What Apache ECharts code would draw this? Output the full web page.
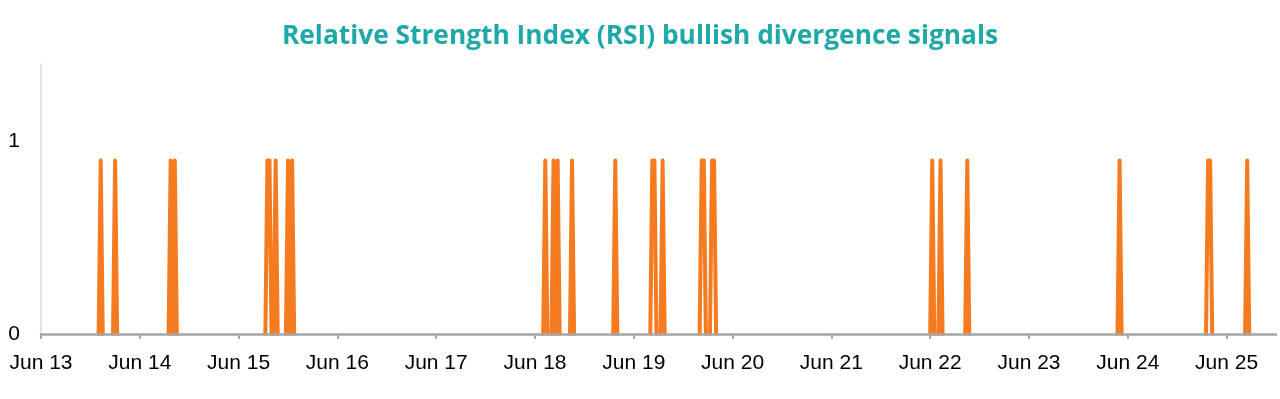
<!DOCTYPE html>
<html>
<head>
<meta charset="utf-8">
<script src="https://cdn.jsdelivr.net/npm/echarts@6/dist/echarts.min.js"></script>
<style>
html,body{margin:0;padding:0;background:#fff;}
#chart{width:1280px;height:399px;}
</style>
</head>
<body>
<div id="chart"></div>
<script>
// ---- data (UTC times of RSI bullish divergence signals) ----
const titleText = 'Relative Strength Index (RSI) bullish divergence signals';
const rangeStart = '2025-06-13T00:00Z';
const rangeEnd = '2025-06-25T12:00Z';
const signalTimes = [
  '2025-06-13T14:30Z','2025-06-13T18:00Z',
  '2025-06-14T07:30Z','2025-06-14T08:30Z',
  '2025-06-15T07:00Z','2025-06-15T07:30Z','2025-06-15T09:00Z','2025-06-15T12:00Z','2025-06-15T13:00Z',
  '2025-06-18T02:30Z','2025-06-18T04:30Z','2025-06-18T05:30Z','2025-06-18T09:00Z','2025-06-18T19:30Z',
  '2025-06-19T04:30Z','2025-06-19T05:00Z','2025-06-19T07:00Z','2025-06-19T16:30Z','2025-06-19T17:00Z','2025-06-19T19:00Z','2025-06-19T19:30Z',
  '2025-06-22T00:30Z','2025-06-22T02:30Z','2025-06-22T09:00Z',
  '2025-06-23T22:00Z',
  '2025-06-24T19:30Z','2025-06-24T20:00Z',
  '2025-06-25T05:00Z'
];
const signalValues = [
  0.9,0.9,
  0.9,0.9,
  0.9,0.9,0.9,0.9,0.9,
  0.9,0.9,0.9,0.9,0.9,
  0.9,0.9,0.9,0.9,0.9,0.9,0.9,
  0.9,0.9,0.9,
  0.9,
  0.9,0.9,
  0.9
];
const tickLabels = ['Jun 13','Jun 14','Jun 15','Jun 16','Jun 17','Jun 18','Jun 19','Jun 20','Jun 21','Jun 22','Jun 23','Jun 24','Jun 25'];
const yTickLabels = ['0','1'];

// ---- build series (30-minute sampling; value 0 when no signal) ----
const STEP = 30 * 60 * 1000;
const DAY = 24 * 3600 * 1000;
const t0 = Date.parse(rangeStart);
const t1 = Date.parse(rangeEnd);
const pts = new Map();
signalTimes.forEach((s, i) => { pts.set(Date.parse(s), signalValues[i]); });
signalTimes.forEach((s) => {
  const t = Date.parse(s);
  if (!pts.has(t - STEP)) pts.set(t - STEP, 0);
  if (!pts.has(t + STEP)) pts.set(t + STEP, 0);
});
const sorted = Array.from(pts.entries()).sort((a, b) => a[0] - b[0]);
// the flat zero baseline between signal groups lies under the axis line; leave it undrawn
const seriesData = [];
sorted.forEach((p, i) => {
  if (i > 0 && p[0] - sorted[i - 1][0] > STEP) seriesData.push([p[0] - STEP / 2, null]);
  seriesData.push(p);
});
const dayTicks = tickLabels.map((_, i) => t0 + i * DAY);

const chart = echarts.init(document.getElementById('chart'), null, {renderer: 'canvas'});
chart.setOption({
  animation: false,
  backgroundColor: '#ffffff',
  title: {
    text: titleText,
    left: 'center',
    top: 19,
    textStyle: {
      fontFamily: 'Open Sans',
      fontWeight: 'bold',
      fontSize: 26.3,
      color: '#1fa8a8'
    }
  },
  grid: {left: 41, right: 4, top: 64, bottom: 65, containLabel: false},
  xAxis: {
    type: 'value',
    min: t0,
    max: t1,
    interval: DAY,
    z: 10,
    splitLine: {show: false},
    axisLine: {show: true, lineStyle: {color: '#a6a6a6', width: 2.5}},
    axisTick: {show: true, length: 5, customValues: dayTicks, lineStyle: {color: '#a6a6a6', width: 2}},
    axisLabel: {
      customValues: dayTicks,
      margin: 19,
      fontFamily: 'Liberation Sans',
      fontSize: 21,
      color: '#000000',
      formatter: (v) => tickLabels[Math.round((v - t0) / DAY)] || ''
    }
  },
  yAxis: {
    type: 'value',
    min: 0,
    max: 1.4,
    interval: 1,
    splitLine: {show: false},
    axisLine: {show: true, lineStyle: {color: '#d9d9d9', width: 1.5}},
    axisTick: {show: false},
    axisLabel: {
      showMaxLabel: false,
      margin: 21,
      padding: [5, 0, 0, 0],
      fontFamily: 'Liberation Sans',
      fontSize: 21,
      color: '#000000',
      formatter: (v) => (Math.abs(v - Math.round(v)) < 1e-9 && yTickLabels[Math.round(v)] !== undefined) ? yTickLabels[Math.round(v)] : ''
    }
  },
  series: [{
    type: 'line',
    data: seriesData,
    connectNulls: false,
    showSymbol: false,
    symbol: 'none',
    lineStyle: {color: '#f47b20', width: 4, cap: 'round', join: 'round'},
    z: 2
  }]
});
</script>
</body>
</html>
